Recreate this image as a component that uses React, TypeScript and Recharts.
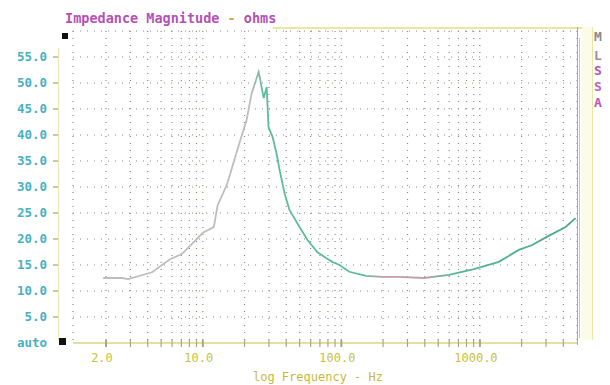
import { LineChart, Line, XAxis, YAxis, CartesianGrid } from "recharts";

// impedance sweep (Hz, ohms)
const freqHz = [
  1.91, 2.61, 2.89, 4.3, 5.79, 7.06, 10, 12, 12.8, 14.9, 18.5, 20.7, 22.5, 25.3,
  27.5, 28.9, 29.8, 31.9, 34, 35.8, 38.9, 42.2, 49.9, 57, 67, 78, 86, 97, 114,
  151, 197, 261, 395, 598, 905, 1370, 1907, 2366, 3134, 4155, 4900,
];
const ohms = [
  12.5, 12.5, 12.3, 13.6, 16.1, 17.1, 21.2, 22.3, 26.5, 30.4, 38.7, 42.9, 48,
  52.1, 47.1, 49.2, 41.5, 39.6, 36.5, 33.3, 28.8, 25.6, 22.3, 19.8, 17.5, 16.3,
  15.6, 15.0, 13.7, 12.9, 12.7, 12.7, 12.5, 13.1, 14.2, 15.6, 17.9, 18.8, 20.6,
  22.3, 24.0,
];
const xTicks = [
  2, 3, 4, 5, 6, 7, 8, 9, 10, 20, 30, 40, 50, 60, 70, 80, 90, 100, 200, 300,
  400, 500, 600, 700, 800, 900, 1000, 2000, 3000, 4000,
];
const xLabels: Record<number, string> = { 2: "2.0", 10: "10.0", 100: "100.0", 1000: "1000.0" };
const yTicks = [0, 5, 10, 15, 20, 25, 30, 35, 40, 45, 50, 55];
const badge = ["M", "L", "S", "S", "A"];

const data = freqHz.map((f, i) => ({ f, z: ohms[i] }));

const mono = "'DejaVu Sans Mono', 'Liberation Mono', monospace";

function YTick({ x, y, payload }: any) {
  const v = payload.value;
  return (
    <g>
      <text x={x - 26} y={y} dy="0.35em" textAnchor="end" fill="#48b0c2" fontFamily={mono} fontSize={12.5} fontWeight={600}>
        {v === 0 ? "auto" : v.toFixed(1)}
      </text>
      {v !== 0 && <line x1={x - 20} x2={x - 15} y1={y} y2={y} stroke="#b8b878" strokeWidth={1.5} />}
    </g>
  );
}

function XTick({ x, y, payload }: any) {
  const lab = xLabels[payload.value];
  return (
    <g>
      <line x1={x} x2={x} y1={y - 3} y2={y + 4} stroke="#a8a878" strokeWidth={lab ? 2 : 1.2} />
      {lab && (
        <text x={x - 4} y={y + 19} textAnchor="middle" fill="#c8c23c" fontFamily={mono} fontSize={12}>
          {lab}
        </text>
      )}
    </g>
  );
}

export default function App() {
  return (
    <div style={{ position: "relative", width: 594, height: 377 }}>
      <div style={{ position: "absolute", left: 57, top: 3, fontFamily: mono, fontSize: 13.5, fontWeight: 700, lineHeight: "14px", color: "#b452b4", whiteSpace: "pre" }}>
        Impedance Magnitude <span style={{ color: "#e0a050" }}>-</span> ohms
      </div>
      <LineChart width={594} height={377} data={data} margin={{ top: 23, right: 25, left: 0, bottom: 0 }}>
        <defs>
          <linearGradient id="imp" x1="0" y1="0" x2="1" y2="0">
            <stop offset="0" stopColor="#bdbdbd" />
            <stop offset="0.31" stopColor="#bdbdbd" />
            <stop offset="0.34" stopColor="#5cbc9c" />
            <stop offset="0.55" stopColor="#5cbc9c" />
            <stop offset="0.6" stopColor="#c89aa8" />
            <stop offset="0.68" stopColor="#c0a0a8" />
            <stop offset="0.74" stopColor="#56b896" />
            <stop offset="1" stopColor="#4aa88a" />
          </linearGradient>
        </defs>
        <CartesianGrid stroke="#8c8c7c" strokeDasharray="1 6" strokeWidth={1.2} />
        <XAxis
          dataKey="f"
          type="number"
          scale="log"
          domain={[1.156, 5020]}
          allowDataOverflow
          ticks={xTicks}
          interval={0}
          tick={<XTick />}
          tickLine={false}
          tickSize={0}
          tickMargin={0}
          axisLine={{ stroke: "#e6e0a0", strokeWidth: 2 }}
          height={42}
          label={{ value: "log Frequency - Hz", position: "insideBottom", offset: 4, dx: -7, fill: "#c8b83c", fontFamily: mono, fontSize: 12 }}
        />
        <YAxis
          type="number"
          domain={[0, 60]}
          ticks={yTicks}
          interval={0}
          tick={<YTick />}
          tickLine={false}
          tickSize={0}
          tickMargin={0}
          axisLine={false}
          width={65}
        />
        <Line type="linear" dataKey="z" stroke="url(#imp)" strokeWidth={1.8} dot={false} isAnimationActive={false} />
      </LineChart>
      <div style={{ position: "absolute", left: 54, top: 25, width: 6, height: 6, background: "#111" }} />
      <div style={{ position: "absolute", left: 51, top: 330, width: 7, height: 7, background: "#111" }} />
      <div style={{ position: "absolute", left: 50, top: 40, width: 1, height: 292, background: "#e6e6b8" }} />
      <div style={{ position: "absolute", left: 265, top: 19, width: 320, height: 2, background: "#e4eaa0" }} />
      <div style={{ position: "absolute", left: 569, top: 19, width: 1, height: 318, background: "#a8a8a8" }} />
      <div style={{ position: "absolute", left: 571, top: 30, width: 1, height: 300, background: "#d4b8dc" }} />
      <div style={{ position: "absolute", left: 574, top: 19, width: 10, height: 313, background: "#fbfbe8", borderRight: "1px solid #e8e8a8" }} />
      {badge.map((c, i) => (
        <div
          key={i}
          style={{
            position: "absolute",
            left: 586,
            top: [22, 41, 56, 72, 88][i],
            fontFamily: mono,
            fontSize: 13,
            fontWeight: 700,
            lineHeight: "14px",
            color: ["#8a8a8a", "#a088a8", "#b058b8", "#c060c0", "#c050c0"][i],
          }}
        >
          {c}
        </div>
      ))}
    </div>
  );
}
